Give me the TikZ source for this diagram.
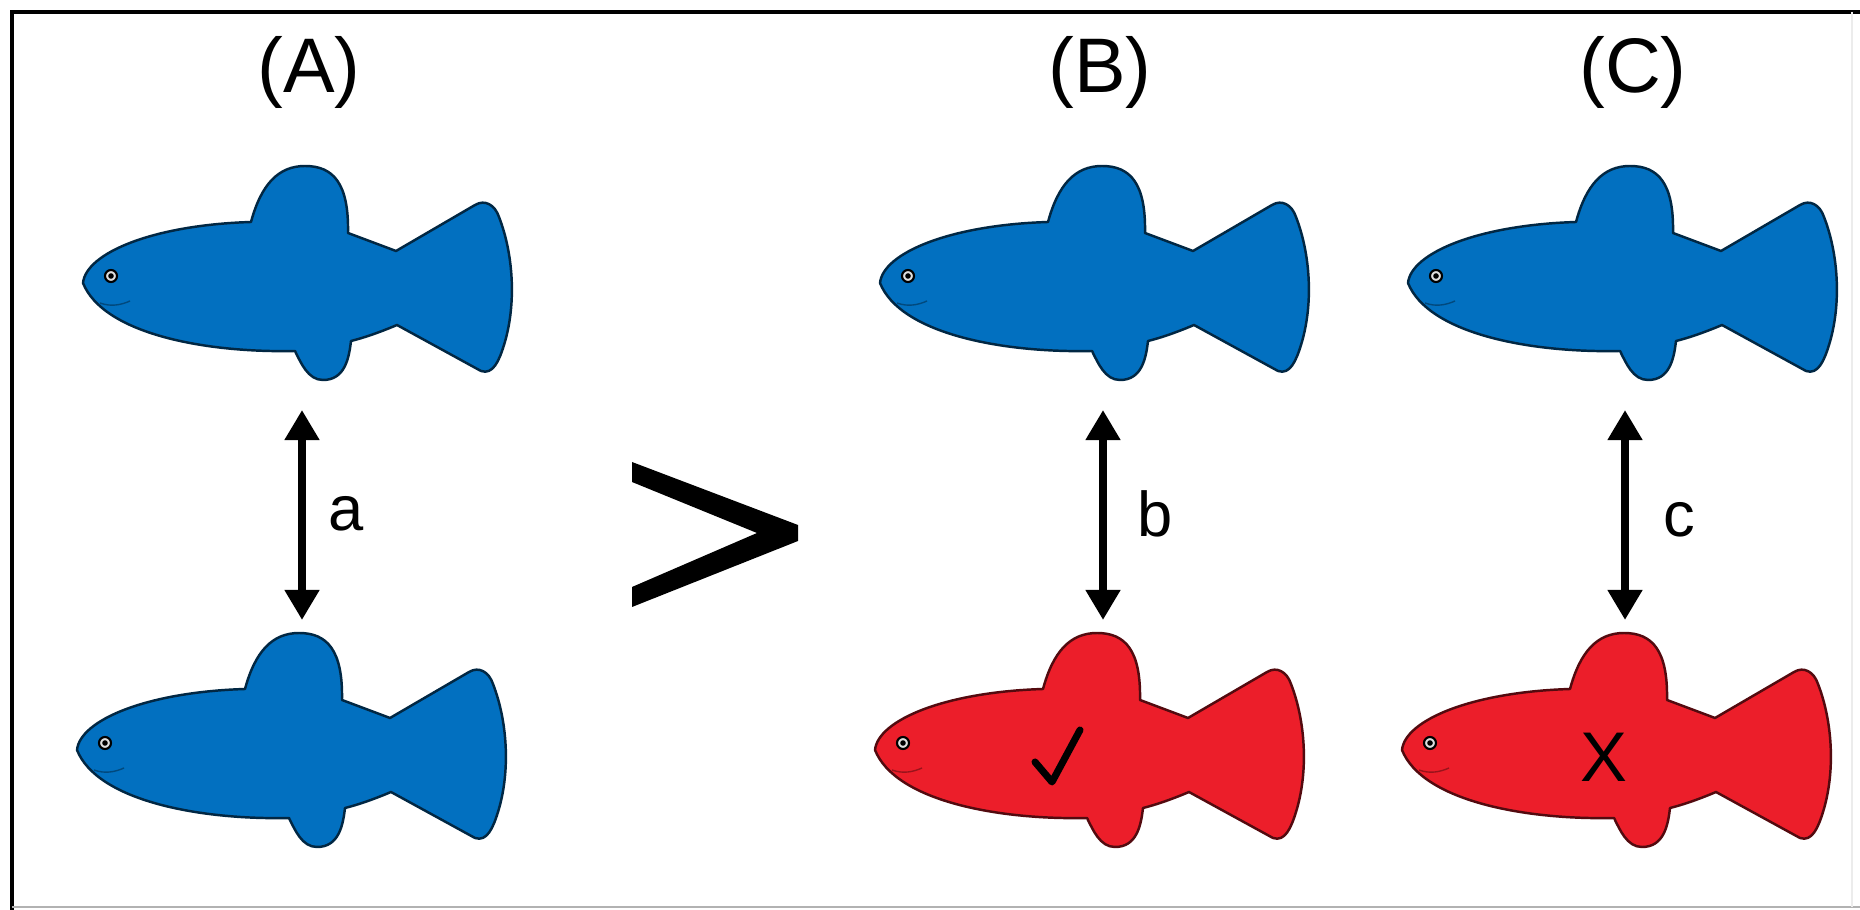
\documentclass[tikz,border=0pt]{standalone}
\usepackage{fontspec}
\setmainfont{Liberation Sans}
\usetikzlibrary{arrows.meta}
\definecolor{fishblue}{RGB}{2,112,192}
\definecolor{fishred}{RGB}{236,30,42}
\tikzset{
  fishbody/.style={fill=#1, draw=#1!35!black, line width=0.7pt, line join=round},
  pics/fish/.style={code={
    % body, dorsal fin, tail and anal fin as one outline (snout at the origin)
    \draw[fishbody=#1] (0,0)
      .. controls (3,-30) and (70,-58) .. (168,-61)
      .. controls (178,-98) and (195,-117) .. (222,-117)
      .. controls (250,-117) and (266,-100) .. (265,-50)
      -- (313,-32)
      -- (392,-78)
      .. controls (402,-84) and (412,-78) .. (416,-66)
      .. controls (430,-30) and (434,20) .. (421,62)
      .. controls (416,78) and (410,92) .. (398,88)
      -- (314,42)
      .. controls (295,50) and (280,55) .. (268,58)
      .. controls (266,75) and (262,97) .. (240,97)
      .. controls (225,97) and (218,80) .. (212,68)
      .. controls (120,70) and (20,50) .. (0,0) -- cycle;
    % mouth
    \draw[#1!65!black, line width=0.4pt] (17,20) .. controls (28,24) and (38,22) .. (47,18);
    % eye
    \draw[fill=gray!25, draw=black, line width=0.6pt] (28,-7) circle[radius=6];
    \fill[black] (28,-7) circle[radius=2.8];
  }},
  dblarrow/.style={line width=2.3pt, {Triangle[width=0.33cm,length=0.3cm]}-{Triangle[width=0.33cm,length=0.3cm]}},
  paneltitle/.style={font=\fontsize{22}{26}\selectfont, inner sep=0pt},
  distlabel/.style={font=\fontsize{18}{22}\selectfont, inner sep=0pt, anchor=base west},
}
\begin{document}
\begin{tikzpicture}[x=0.01cm, y=-0.01cm]
  \useasboundingbox (0,0) rectangle (1860,910);
  \fill[white] (0,0) rectangle (1860,910);

  % frame
  \draw[line width=1.2pt] (12,910) -- (12,12) -- (1860,12);
  \draw[gray!60, line width=0.5pt] (12,907) -- (1860,907);
  \draw[gray!15, line width=0.5pt] (1852,12) -- (1852,907);

  % panel titles
  \node[paneltitle] (tA) at (309,72) {(A)};
  \node[paneltitle] (tB) at (1100,72) {(B)};
  \node[paneltitle] (tC) at (1633,72) {(C)};

  % fish
  \pic (fishA1) at (83,283) {fish=fishblue};
  \pic (fishA2) at (77,750) {fish=fishblue};
  \pic (fishB1) at (880,283) {fish=fishblue};
  \pic (fishB2) at (875,750) {fish=fishred};
  \pic (fishC1) at (1408,283) {fish=fishblue};
  \pic (fishC2) at (1402,750) {fish=fishred};

  % double arrows between the pairs
  \coordinate (aTop) at (302,410);
  \coordinate (aBot) at (302,620);
  \coordinate (bTop) at (1103,410);
  \coordinate (bBot) at (1103,620);
  \coordinate (cTop) at (1625,410);
  \coordinate (cBot) at (1625,620);
  \draw[dblarrow] (aTop) -- (aBot);
  \draw[dblarrow] (bTop) -- (bBot);
  \draw[dblarrow] (cTop) -- (cBot);
  \node[distlabel] (la) at (328,531) {a};
  \node[distlabel] (lb) at (1137,537) {b};
  \node[distlabel] (lc) at (1663,537) {c};

  % greater-than sign
  \fill[black] (632,462) -- (798,525) -- (798,541) -- (632,607) -- (632,587)
    -- (757,533) -- (632,482) -- cycle;

  % tick and cross on the red fish
  \draw[line width=2pt, line cap=round, line join=round] (1035,762) -- (1052,782) -- (1080,730);
  \node[font=\fontsize{20}{24}\selectfont, inner sep=0pt] (cross) at (1604,757) {X};
\end{tikzpicture}
\end{document}
